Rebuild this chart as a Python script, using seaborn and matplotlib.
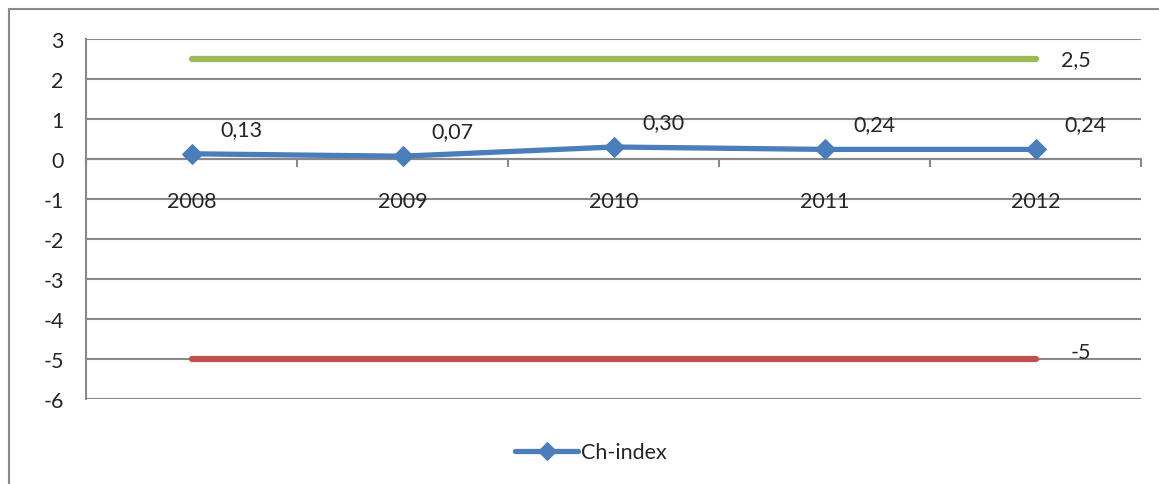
import matplotlib
matplotlib.use("Agg")
import matplotlib.pyplot as plt
import numpy as np
import pandas as pd
import seaborn as sns

years = ["2008", "2009", "2010", "2011", "2012"]
ch_index = [0.13, 0.07, 0.30, 0.24, 0.24]
upper_limit = 2.5
lower_limit = -5
y_ticks = [3, 2, 1, 0, -1, -2, -3, -4, -5, -6]

sns.set_style("white")
plt.rcParams["font.family"] = ["Lato", "DejaVu Sans"]

GRID = "#898989"
BLUE = "#4A7EBB"
GREEN = "#9BBB59"
RED = "#C0504D"
FS = 15.5

df = pd.DataFrame({"year": years, "value": ch_index, "x": np.arange(len(years))})

fig = plt.figure(figsize=(11.59, 4.85), dpi=100)
ax = fig.add_axes([86 / 1159, 1 - 400 / 485, (1141 - 86) / 1159, 360 / 485])

# horizontal gridlines
for t in y_ticks:
    ax.axhline(t, color=GRID, lw=1.5, zorder=0)

# limit lines
sns.lineplot(x=df["x"], y=[upper_limit] * len(years), ax=ax, color=GREEN,
             lw=4.5, solid_capstyle="round", zorder=3)
sns.lineplot(x=df["x"], y=[lower_limit] * len(years), ax=ax, color=RED,
             lw=4.5, solid_capstyle="round", zorder=3)

# main series
sns.lineplot(data=df, x="x", y="value", ax=ax, color=BLUE, lw=3.8,
             marker="D", markersize=10.5, markeredgecolor=BLUE,
             label="Ch-index", zorder=4)

# data labels
for i, v in enumerate(ch_index):
    ax.annotate(f"{v:.2f}".replace(".", ","), (i, v), xytext=(36, 18),
                textcoords="offset points", ha="center", va="center", fontsize=FS)
ax.annotate(str(upper_limit).replace(".", ","), (len(years) - 1, upper_limit),
            xytext=(29, 0), textcoords="offset points", ha="center", va="center",
            fontsize=FS)
ax.annotate(str(lower_limit), (len(years) - 1, lower_limit), xytext=(33, 5),
            textcoords="offset points", ha="center", va="center", fontsize=FS)

ax.set_xlim(-0.5, len(years) - 0.5)
ax.set_ylim(-6, 3)
ax.set_yticks(y_ticks)
ax.set_yticklabels([str(t) for t in y_ticks])
ax.tick_params(axis="y", which="major", length=6, width=1.5, color=GRID,
               direction="out", labelsize=FS, pad=10)

ax.spines["bottom"].set_position(("data", 0))
ax.spines["bottom"].set_color(GRID)
ax.spines["bottom"].set_linewidth(1.5)
ax.spines["left"].set_color(GRID)
ax.spines["left"].set_linewidth(1.5)
ax.spines["top"].set_visible(False)
ax.spines["right"].set_visible(False)

ax.set_xticks(df["x"])
ax.set_xticklabels(years)
ax.set_xticks(np.arange(-0.5, len(years)), minor=True)
ax.tick_params(axis="x", which="major", length=0, labelsize=FS, pad=23)
ax.tick_params(axis="x", which="minor", length=6, width=1.5, color=GRID,
               direction="out", bottom=True)
ax.set_xlabel("")
ax.set_ylabel("")

leg = ax.legend(loc="center", bbox_to_anchor=(0.51, 0.065),
                bbox_transform=fig.transFigure, frameon=False, fontsize=FS,
                handlelength=2.9, handletextpad=0.15, markerscale=0.85)

# outer chart frame
fig.add_artist(plt.Line2D([9 / 1159, 9 / 1159], [0, 1 - 10 / 485],
                          transform=fig.transFigure, color=GRID, lw=1.5))
fig.add_artist(plt.Line2D([9 / 1159, 1], [1 - 10 / 485, 1 - 10 / 485],
                          transform=fig.transFigure, color=GRID, lw=1.5))

fig.savefig("out.png", dpi=100)
